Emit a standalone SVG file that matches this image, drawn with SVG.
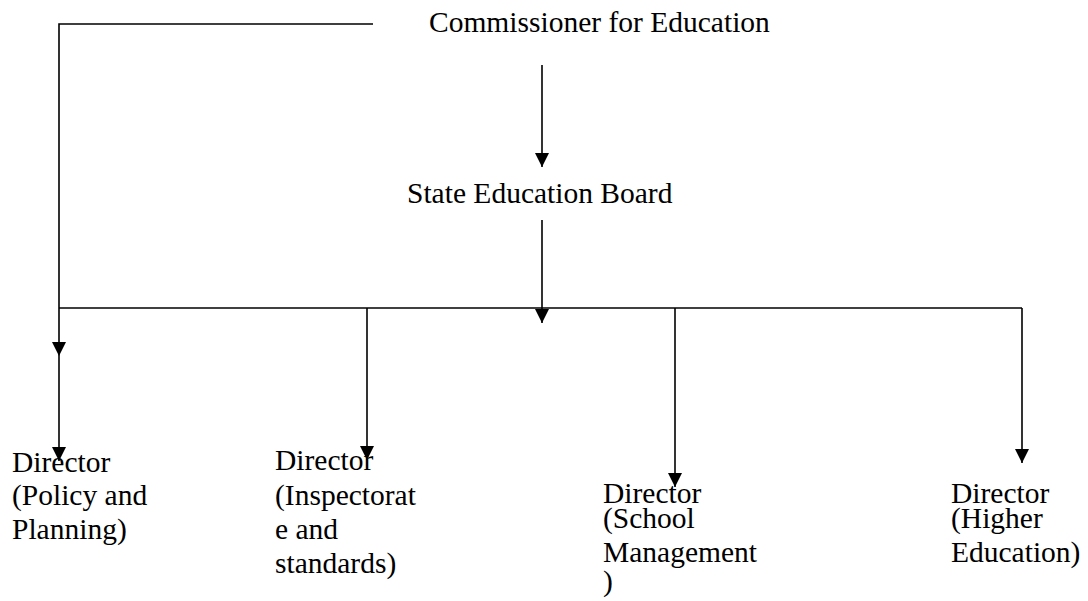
<svg xmlns="http://www.w3.org/2000/svg" width="1088" height="601" viewBox="0 0 1088 601">
<style>
  .t { font-family: "Liberation Serif", "Times New Roman", serif; font-size: 29.5px; fill: #000; }
  .c { fill: none; stroke: #000; stroke-width: 1.6; }
</style>
<defs>
  <marker id="arr" markerUnits="userSpaceOnUse" markerWidth="14" markerHeight="14" refX="14" refY="7" orient="auto">
    <path d="M0,0 L14,7 L0,14 z" fill="#000"/>
  </marker>
</defs>
<rect width="1088" height="601" fill="#fff"/>
<g id="connectors">
  <path class="c" d="M373,24 H59 V356" marker-end="url(#arr)"/>
  <path class="c" d="M59,356 V461" marker-end="url(#arr)"/>
  <path class="c" d="M542,65 V167" marker-end="url(#arr)"/>
  <path class="c" d="M542,220 V323" marker-end="url(#arr)"/>
  <path class="c" d="M59,308 H1022"/>
  <path class="c" d="M367,308 V460" marker-end="url(#arr)"/>
  <path class="c" d="M675,308 V487" marker-end="url(#arr)"/>
  <path class="c" d="M1022,308 V463" marker-end="url(#arr)"/>
</g>
<g id="commissioner"><text class="t" x="429" y="32">Commissioner for Education</text></g>
<g id="board"><text class="t" x="407" y="203">State Education Board</text></g>
<g id="dir-policy">
  <text class="t" x="12" y="472">Director</text>
  <text class="t" x="12" y="505">(Policy and</text>
  <text class="t" x="12" y="539">Planning)</text>
</g>
<g id="dir-inspectorate">
  <text class="t" x="275" y="470">Director</text>
  <text class="t" x="275" y="505">(Inspectorat</text>
  <text class="t" x="275" y="539">e and</text>
  <text class="t" x="275" y="573">standards)</text>
</g>
<g id="dir-school">
  <text class="t" x="603" y="503">Director</text>
  <text class="t" x="603" y="528">(School</text>
  <text class="t" x="603" y="562">Management</text>
  <text class="t" x="603" y="591">)</text>
</g>
<g id="dir-higher">
  <text class="t" x="951" y="503">Director</text>
  <text class="t" x="951" y="528">(Higher</text>
  <text class="t" x="951" y="562">Education)</text>
</g>
</svg>
